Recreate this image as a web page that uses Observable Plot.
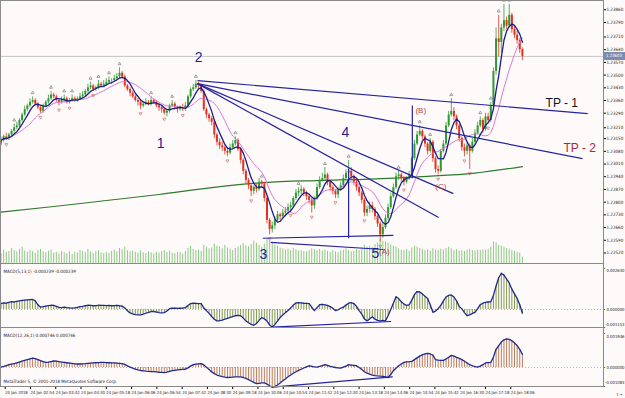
<!DOCTYPE html>
<html><head><meta charset="utf-8">
<script src="https://cdn.jsdelivr.net/npm/d3@7"></script>
<script src="https://cdn.jsdelivr.net/npm/@observablehq/plot@0.6"></script>
<style>
html,body{margin:0;padding:0;background:#fffafa;}
#chart{position:relative;width:625px;height:398px;background:#fffafa;overflow:hidden;font-family:"DejaVu Sans",sans-serif;}
#chart svg{position:absolute;left:0;}
.ln{position:absolute;background:#8a8a8a;}
#pbox{position:absolute;left:603px;top:52px;width:22px;height:8px;background:#7d8cab;color:#fff;font-size:4.3px;line-height:8px;text-align:center;font-family:"Liberation Sans Narrow","DejaVu Sans Condensed",sans-serif;}
</style></head><body><div id="chart"></div>
<script>
// ---- price bars (M5, 24 Jan 2018 from 02:00) ----
const firstOpen = 1.2312;
const closes = [1.2314,1.2316,1.2315,1.2317,1.2319,1.2321,1.2322,1.2325,1.2328,1.2331,
1.2333,1.2335,1.2336,1.2334,1.2332,1.2330,1.2333,1.2335,1.2337,1.2339,
1.2338,1.2336,1.2335,1.2336,1.2337,1.2335,1.2336,1.2337,1.2336,1.2337,
1.2338,1.2339,1.2341,1.2343,1.2344,1.2342,1.2343,1.2345,1.2344,1.2345,
1.2346,1.2347,1.2347,1.2348,1.2349,1.2351,1.2349,1.2344,1.2342,1.2340,
1.2338,1.2336,1.2335,1.2333,1.2334,1.2335,1.2334,1.2336,1.2335,1.2333,
1.2332,1.2331,1.2329,1.2330,1.2333,1.2334,1.2332,1.2331,1.2332,1.2331,
1.2333,1.2338,1.2342,1.2343,1.2345,1.2344,1.2341,1.2331,1.2328,1.2326,
1.2324,1.2317,1.2313,1.2311,1.2310,1.2308,1.2307,1.2310,1.2312,1.2314,
1.2309,1.2303,1.2297,1.2292,1.2289,1.2286,1.2288,1.2287,1.2291,1.2290,
1.2282,1.2270,1.2265,1.2267,1.2270,1.2273,1.2272,1.2274,1.2275,1.2277,
1.2278,1.2282,1.2285,1.2286,1.2287,1.2285,1.2283,1.2281,1.2278,1.2282,
1.2288,1.2292,1.2293,1.2295,1.2291,1.2288,1.2286,1.2284,1.2287,1.2289,
1.2293,1.2296,1.2297,1.2294,1.2291,1.2288,1.2285,1.2281,1.2274,1.2276,
1.2278,1.2276,1.2272,1.2268,1.2262,1.2266,1.2271,1.2277,1.2283,1.2288,
1.2294,1.2295,1.2293,1.2291,1.2293,1.2295,1.2304,1.2312,1.2317,1.2319,
1.2316,1.2312,1.2308,1.2313,1.2304,1.2298,1.2297,1.2308,1.2312,1.2322,
1.2328,1.2330,1.2327,1.2322,1.2315,1.2310,1.2308,1.2311,1.2308,1.2313,
1.2318,1.2322,1.2325,1.2320,1.2327,1.2325,1.2333,1.2352,1.2370,1.2368,
1.2376,1.2380,1.2377,1.2383,1.2375,1.2372,1.2369,1.2364,1.23603];
const highs = [1.2316,1.2317,1.2318,1.2318,1.2320,1.2323,1.2324,1.2326,1.2329,1.2333,
1.2334,1.2337,1.2338,1.2337,1.2335,1.2333,1.2334,1.2336,1.2339,1.2341,
1.2340,1.2339,1.2337,1.2338,1.2339,1.2338,1.2337,1.2339,1.2338,1.2338,
1.2340,1.2341,1.2342,1.2345,1.2346,1.2345,1.2344,1.2347,1.2346,1.2347,
1.2348,1.2349,1.2348,1.2350,1.2351,1.2354,1.2352,1.2350,1.2345,1.2343,
1.2341,1.2339,1.2337,1.2336,1.2335,1.2337,1.2336,1.2338,1.2337,1.2336,
1.2334,1.2333,1.2332,1.2331,1.2334,1.2336,1.2335,1.2333,1.2333,1.2334,
1.2335,1.2339,1.2343,1.2345,1.2347,1.2346,1.2345,1.2342,1.2332,1.2329,
1.2327,1.2325,1.2318,1.2315,1.2313,1.2311,1.2310,1.2312,1.2314,1.2316,
1.2315,1.2310,1.2304,1.2298,1.2293,1.2290,1.2289,1.2290,1.2293,1.2292,
1.2291,1.2283,1.2271,1.2269,1.2272,1.2275,1.2274,1.2276,1.2277,1.2279,
1.2280,1.2283,1.2287,1.2288,1.2289,1.2288,1.2286,1.2284,1.2282,1.2283,
1.2290,1.2294,1.2296,1.2299,1.2296,1.2292,1.2289,1.2287,1.2288,1.2291,
1.2295,1.2298,1.2303,1.2299,1.2295,1.2292,1.2289,1.2286,1.2282,1.2278,
1.2280,1.2280,1.2277,1.2273,1.2269,1.2268,1.2273,1.2279,1.2285,1.2290,
1.2296,1.2297,1.2296,1.2294,1.2294,1.2297,1.2305,1.2314,1.2319,1.2322,
1.2320,1.2317,1.2313,1.2315,1.2314,1.2305,1.2300,1.2309,1.2314,1.2324,
1.2330,1.2337,1.2332,1.2328,1.2323,1.2316,1.2312,1.2313,1.2312,1.2315,
1.2320,1.2324,1.2327,1.2326,1.2329,1.2329,1.2335,1.2354,1.2376,1.2383,
1.2378,1.2389,1.2382,1.2389,1.2384,1.2377,1.2374,1.2370,1.2365];
const lows = [1.2311,1.2313,1.2314,1.2314,1.2316,1.2318,1.2320,1.2321,1.2324,1.2327,
1.2330,1.2332,1.2334,1.2333,1.2331,1.2329,1.2329,1.2332,1.2334,1.2336,
1.2337,1.2335,1.2333,1.2334,1.2335,1.2334,1.2334,1.2335,1.2335,1.2335,
1.2336,1.2337,1.2338,1.2340,1.2342,1.2341,1.2341,1.2342,1.2343,1.2343,
1.2344,1.2345,1.2345,1.2346,1.2347,1.2348,1.2348,1.2343,1.2341,1.2338,
1.2337,1.2335,1.2333,1.2331,1.2332,1.2333,1.2333,1.2333,1.2334,1.2332,
1.2330,1.2329,1.2328,1.2327,1.2329,1.2332,1.2331,1.2329,1.2330,1.2330,
1.2330,1.2332,1.2337,1.2341,1.2342,1.2342,1.2340,1.2330,1.2326,1.2324,
1.2322,1.2315,1.2311,1.2309,1.2308,1.2306,1.2305,1.2306,1.2309,1.2311,
1.2308,1.2301,1.2295,1.2290,1.2287,1.2283,1.2284,1.2285,1.2286,1.2288,
1.2280,1.2268,1.2262,1.2263,1.2265,1.2269,1.2270,1.2271,1.2272,1.2273,
1.2275,1.2277,1.2281,1.2283,1.2284,1.2283,1.2281,1.2279,1.2274,1.2276,
1.2281,1.2287,1.2291,1.2292,1.2289,1.2286,1.2284,1.2282,1.2282,1.2286,
1.2288,1.2292,1.2295,1.2292,1.2289,1.2286,1.2283,1.2279,1.2272,1.2272,
1.2274,1.2274,1.2270,1.2266,1.2258,1.2260,1.2265,1.2270,1.2276,1.2282,
1.2287,1.2292,1.2291,1.2289,1.2290,1.2292,1.2294,1.2303,1.2311,1.2316,
1.2314,1.2310,1.2306,1.2307,1.2302,1.2296,1.2295,1.2296,1.2307,1.2311,
1.2321,1.2327,1.2325,1.2320,1.2313,1.2308,1.2305,1.2306,1.2298,1.2307,
1.2312,1.2317,1.2321,1.2318,1.2319,1.2323,1.2324,1.2332,1.2350,1.2360,
1.2362,1.2374,1.2375,1.2376,1.2373,1.2370,1.2367,1.2362,1.2358];
const volumes = [220,310,260,280,350,300,270,330,380,290,260,310,280,240,300,330,270,250,290,310,
240,260,220,280,250,230,270,210,260,240,300,280,250,330,270,240,280,300,250,230,
260,240,280,310,270,350,320,380,300,270,290,260,240,300,250,230,270,250,220,260,
240,280,300,260,290,240,230,260,250,220,280,350,400,330,300,310,280,420,380,340,
360,450,400,380,340,420,360,330,300,350,380,420,460,410,390,440,520,470,420,380,
450,560,520,480,430,400,360,340,310,330,300,350,320,290,300,280,270,300,340,320,
300,330,290,310,280,260,300,270,250,290,310,340,300,270,290,320,300,360,420,380,
400,370,440,480,560,520,500,470,430,400,380,340,310,300,320,290,360,400,380,350,
330,300,320,290,340,310,300,330,310,350,380,340,300,320,290,300,280,310,330,300,
290,310,300,320,310,330,380,500,480,420,400,380,350,330,300,280,260,240,150];
const macdFast = [0.00038,0.00042,0.00040,0.00045,0.00050,0.00048,0.00052,0.00055,0.00058,0.00060,
0.00062,0.00063,0.00064,0.00055,0.00030,0.00015,0.00018,0.00022,0.00025,0.00027,
0.00026,0.00020,0.00014,0.00012,0.00015,0.00012,0.00010,0.00009,0.00011,0.00014,
0.00018,0.00020,0.00024,0.00027,0.00026,0.00024,0.00025,0.00027,0.00026,0.00026,
0.00025,0.00026,0.00024,0.00025,0.00027,0.00024,0.00022,0.00010,-0.00008,-0.00022,
-0.00028,-0.00033,-0.00035,-0.00035,-0.00030,-0.00024,-0.00018,-0.00013,-0.00013,-0.00016,
-0.00020,-0.00022,-0.00020,-0.00010,0.00005,0.00009,0.00008,0.00007,0.00008,0.00009,
0.00012,0.00025,0.00038,0.00040,0.00039,0.00038,0.00038,0.00010,-0.00007,-0.00025,
-0.00045,-0.00062,-0.00073,-0.00072,-0.00068,-0.00062,-0.00057,-0.00050,-0.00045,-0.00040,
-0.00038,-0.00040,-0.00055,-0.00073,-0.00085,-0.00095,-0.00101,-0.00090,-0.00070,-0.00051,
-0.00060,-0.00073,-0.00100,-0.00113,-0.00095,-0.00075,-0.00051,-0.00035,-0.00020,-0.00007,
0.00010,0.00028,0.00042,0.00044,0.00042,0.00040,0.00039,0.00038,0.00015,-0.00007,
0.00012,0.00031,0.00033,0.00030,0.00026,0.00018,0.00008,-0.00007,-0.00002,0.00008,
0.00015,0.00028,0.00040,0.00044,0.00038,0.00020,-0.00007,-0.00030,-0.00060,-0.00073,
-0.00060,-0.00046,-0.00062,-0.00070,-0.00073,-0.00070,-0.00073,-0.00040,0.00000,0.00040,
0.00082,0.00070,0.00049,0.00035,0.00026,0.00030,0.00060,0.00095,0.00115,0.00112,
0.00100,0.00085,0.00071,0.00030,-0.00018,-0.00010,0.00005,0.00026,0.00055,0.00080,
0.00090,0.00093,0.00080,0.00055,0.00020,0.00004,-0.00020,-0.00040,-0.00035,-0.00025,
-0.00018,0.00005,0.00031,0.00040,0.00045,0.00048,0.00049,0.00090,0.00150,0.00203,
0.00232,0.00220,0.00195,0.00170,0.00130,0.00100,0.00071,0.00030,-0.000239];
const macdSlow = [0.00002,0.00006,0.00011,0.00016,0.00019,0.00022,0.00026,0.00031,0.00036,0.00041,
0.00045,0.00049,0.00053,0.00050,0.00045,0.00039,0.00034,0.00029,0.00031,0.00034,
0.00037,0.00036,0.00033,0.00031,0.00029,0.00027,0.00025,0.00023,0.00021,0.00020,
0.00020,0.00021,0.00022,0.00024,0.00025,0.00026,0.00027,0.00028,0.00029,0.00029,
0.00028,0.00027,0.00026,0.00026,0.00025,0.00024,0.00022,0.00018,0.00010,0.00002,
-0.00004,-0.00009,-0.00014,-0.00017,-0.00019,-0.00021,-0.00022,-0.00023,-0.00024,-0.00025,
-0.00027,-0.00028,-0.00029,-0.00026,-0.00022,-0.00018,-0.00016,-0.00014,-0.00012,-0.00011,
-0.00010,-0.00002,0.00008,0.00016,0.00019,0.00021,0.00022,0.00015,0.00002,-0.00012,
-0.00025,-0.00035,-0.00043,-0.00048,-0.00052,-0.00055,-0.00057,-0.00056,-0.00055,-0.00054,
-0.00053,-0.00053,-0.00057,-0.00062,-0.00069,-0.00077,-0.00085,-0.00092,-0.00090,-0.00088,
-0.00088,-0.00095,-0.00104,-0.00112,-0.00108,-0.00100,-0.00088,-0.00076,-0.00065,-0.00053,
-0.00043,-0.00033,-0.00024,-0.00016,-0.00010,-0.00003,0.00004,0.00010,0.00007,0.00004,
0.00002,0.00006,0.00011,0.00016,0.00012,0.00006,0.00003,0.00000,-0.00002,-0.00004,
0.00002,0.00008,0.00016,0.00014,0.00012,0.00010,0.00000,-0.00012,-0.00024,-0.00032,
-0.00038,-0.00043,-0.00046,-0.00048,-0.00049,-0.00051,-0.00054,-0.00057,-0.00040,-0.00018,
-0.00004,0.00010,0.00020,0.00029,0.00032,0.00033,0.00035,0.00045,0.00055,0.00065,
0.00072,0.00078,0.00081,0.00077,0.00071,0.00045,0.00042,0.00041,0.00041,0.00048,
0.00058,0.00069,0.00065,0.00058,0.00052,0.00045,0.00036,0.00026,0.00016,0.00010,
0.00005,0.00002,0.00008,0.00016,0.00026,0.00028,0.00029,0.00060,0.00104,0.00125,
0.00145,0.00158,0.00163,0.00160,0.00153,0.00140,0.00125,0.00104,0.000746];

// long moving average (green), read at sample times
const maLongTimes = ["02:00","03:40","05:20","07:00","08:40","10:20","12:00","13:40","15:20","17:00","18:30"];
const maLongValues = [1.22745,1.22776,1.22809,1.22842,1.2288,1.22908,1.22919,1.22927,1.22941,1.2296,1.22996];

const upFractalBars = [5,12,19,24,27,34,37,41,45,57,65,74,89,99,113,123,132,151,159,163,171,182,186,189,191,193];
const downFractalBars = [2,15,22,26,35,53,62,69,86,95,102,110,118,127,138,144,153,166,176,178,185];

// annotations
const waveLabels = ["1","2","3","4","5"];
const waveTimes = ["07:03","08:15","10:18","12:54","13:51"];
const wavePrices = [1.23123,1.23597,1.22511,1.23183,1.22516];
const subLabels = ["(A)","(B)","(C)"];
const subTimes = ["14:08","15:17","15:55"];
const subPrices = [1.22528,1.23305,1.22886];
const tpLabels = ["TP - 1","TP - 2"];
const tpTimes = ["19:14","19:48"];
const tpPrices = [1.23343,1.23095];
const tpColors = ["#111111","#a8283c"];

const trendStartTimes = ["08:13","08:13","08:13","08:13","10:17","10:32","13:00","15:01"];
const trendStartPrices = [1.2347,1.23453,1.23453,1.23453,1.22601,1.22578,1.22985,1.23332];
const trendEndTimes = ["20:34","20:24","16:19","15:51","14:25","14:06","13:00","15:01"];
const trendEndPrices = [1.23288,1.2304,1.22847,1.22715,1.22617,1.22539,1.22601,1.22931];

const macdFastDivTimes = ["10:35","14:20"];
const macdFastDivValues = [-0.00113,-0.00077];
const macdSlowDivTimes = ["10:35","14:23"];
const macdSlowDivValues = [-0.00112,-0.00053];

// axes
const priceTicks = [1.2252,1.2259,1.2266,1.2273,1.2280,1.2287,1.2294,1.2301,1.2308,1.2315,1.2321,1.2329,1.2336,1.2343,1.2350,1.2357,1.2364,1.2371,1.2379,1.2386];
const macdFastTicks = [0.00263,0,-0.001153];
const macdSlowTicks = [0.001946,0,-0.001083];
const xTickTimes = ["02:06","02:54","03:42","04:30","05:18","06:06","06:54","07:42","08:30","09:18","10:06","10:54","11:42","12:30","13:18","14:06","14:54","15:42","16:30","17:18","18:06"];
const xTickLabels = ["24 Jan 2018","24 Jan 02:54","24 Jan 03:42","24 Jan 04:30","24 Jan 05:18","24 Jan 06:06","24 Jan 06:54","24 Jan 07:42","24 Jan 08:30","24 Jan 09:18","24 Jan 10:06","24 Jan 10:54","24 Jan 11:42","24 Jan 12:30","24 Jan 13:18","24 Jan 14:06","24 Jan 14:54","24 Jan 15:42","24 Jan 16:30","24 Jan 17:18","24 Jan 18:06"];
const macdFastTitle = "MACD(5,13,1) -0.000239 -0.000239";
const macdSlowTitle = "MACD(12,26,1) 0.000746 0.000746";
const footer = "MetaTrader 5, \u00a9 2001-2018 MetaQuotes Software Corp.";
const lastPriceLabel = "1.23603";

// ---- build ----
const NARROW = "'Liberation Sans Narrow','DejaVu Sans Condensed',sans-serif";
const t = s => new Date(`2018-01-24T${s}:00Z`);
const t0 = Date.UTC(2018,0,24,2,0);
const bars = closes.map((c,i) => ({
  t: new Date(t0 + i*300000),
  o: i === 0 ? firstOpen : closes[i-1],
  c, h: highs[i], l: lows[i], v: volumes[i], m1: macdFast[i], m2: macdSlow[i]
}));
const xDomain = [t("01:59"), t("21:04")];
const UP = "#2f9a33", DN = "#e2321f";
const common = {width:625, marginLeft:0, marginRight:22, marginTop:0, style:{background:"transparent", overflow:"visible"}};
const chart = document.getElementById("chart");
function place(svg, top){ svg.style.top = top + "px"; chart.appendChild(svg); }

// right-hand value labels for an indicator panel: tick + text, end-anchored inside the margin
function valueAxis(ticks, shifts){
  return [
    Plot.ruleY(ticks,{x1:t("21:04"), x2:t("21:08"), stroke:"#444", strokeWidth:0.8}),
    ...ticks.map((v,i)=>Plot.text([v],{y:d=>d, frameAnchor:"right", dx:21, dy:shifts[i], textAnchor:"end",
      text:d=>d.toFixed(6), fontSize:4.2, fontFamily:NARROW, fill:"#222"}))
  ];
}

// volume layer
place(Plot.plot({...common, height:263, marginBottom:0,
  x:{type:"utc", domain:xDomain, axis:null},
  y:{domain:[0,6100], axis:null},
  marks:[Plot.ruleX(bars,{x:"t", y1:0, y2:"v", stroke:"#8cc985", strokeWidth:1})]
}), 0);

const lastClose = closes[closes.length-1];
const links = trendStartTimes.map((s,i)=>({x1:t(s), y1:trendStartPrices[i], x2:t(trendEndTimes[i]), y2:trendEndPrices[i]}));

place(Plot.plot({...common, height:263, marginBottom:0,
  x:{type:"utc", domain:xDomain, axis:null},
  y:{domain:[1.22462,1.23911]},
  marks:[
    Plot.ruleY([lastClose],{stroke:"#c4c4c4", strokeWidth:1}),
    Plot.line(maLongTimes,{x:d=>t(d), y:(d,i)=>maLongValues[i], stroke:"#2f7a2f", strokeWidth:1.2, curve:"monotone-x"}),
    Plot.ruleX(bars,{x:"t", y1:"l", y2:"h", stroke:d=>d.c>=d.o?UP:DN, strokeWidth:0.8}),
    Plot.ruleX(bars,{x:"t", y1:"o", y2:"c", stroke:d=>d.c>=d.o?UP:DN, strokeWidth:2}),
    Plot.lineY(bars, Plot.windowY({k:12, anchor:"end"}, {x:"t", y:"c", stroke:"#d77ad4", strokeWidth:1})),
    Plot.lineY(bars, Plot.windowY({k:5, anchor:"end"}, {x:"t", y:"c", stroke:"#1c1c8c", strokeWidth:1.3})),
    Plot.dot(upFractalBars,{x:i=>bars[i].t, y:i=>highs[i], dy:-4, symbol:"triangle", r:1.1, stroke:"#6a6a6a", fill:"none", strokeWidth:0.6}),
    Plot.dot(downFractalBars,{x:i=>bars[i].t, y:i=>lows[i], dy:4, symbol:"triangle", rotate:180, r:1.1, stroke:"#c85a5a", fill:"none", strokeWidth:0.6}),
    Plot.link(links,{x1:"x1", y1:"y1", x2:"x2", y2:"y2", stroke:"#2424a0", strokeWidth:1.2}),
    Plot.text(waveLabels,{x:(d,i)=>t(waveTimes[i]), y:(d,i)=>wavePrices[i], text:d=>d, fill:"#1c1c9c", fontSize:14, fontFamily:"Liberation Sans"}),
    Plot.text(subLabels,{x:(d,i)=>t(subTimes[i]), y:(d,i)=>subPrices[i], text:d=>d, fill:"#b04646", fontSize:8, fontFamily:"Liberation Sans"}),
    Plot.text(tpLabels,{x:(d,i)=>t(tpTimes[i]), y:(d,i)=>tpPrices[i], text:d=>d, fill:(d,i)=>tpColors[i], fontSize:12, textAnchor:"start", fontFamily:"Liberation Sans"}),
    Plot.axisY(priceTicks,{anchor:"right", tickSize:2, tickPadding:1, tickFormat:d=>d.toFixed(5), fontSize:4.5, fontFamily:NARROW, fill:"#222"})
  ]
}), 0);

// MACD fast panel
place(Plot.plot({...common, height:63, marginBottom:0,
  x:{type:"utc", domain:xDomain, axis:null},
  y:{domain:[-0.001153,0.00288], axis:null},
  marks:[
    Plot.ruleY([0],{stroke:"#b8b8b8", strokeDasharray:"1,2"}),
    Plot.ruleX(bars,{x:"t", y1:0, y2:"m1", stroke:"#7f9a4e", strokeWidth:1}),
    Plot.line(bars,{x:"t", y:"m1", stroke:"#1e2a8c", strokeWidth:1.3}),
    Plot.line(macdFastDivTimes,{x:d=>t(d), y:(d,i)=>macdFastDivValues[i], stroke:"#2424a0", strokeWidth:1.2}),
    Plot.text([macdFastTitle],{frameAnchor:"top-left", dx:3, dy:5, text:d=>d, fontSize:4.5, fontFamily:NARROW, fill:"#222"}),
    ...valueAxis(macdFastTicks,[2,0,-3])
  ]
}), 264);

// MACD slow panel + time axis
const tickMap = new Map(xTickTimes.map((s,i)=>[+t(s), xTickLabels[i]]));
place(Plot.plot({...common, height:70, marginBottom:12,
  x:{type:"utc", domain:xDomain, axis:null},
  y:{domain:[-0.001083,0.002223], axis:null},
  marks:[
    Plot.ruleY([0],{stroke:"#b8b8b8", strokeDasharray:"1,2"}),
    Plot.ruleX(bars,{x:"t", y1:0, y2:"m2", stroke:"#bb7d5c", strokeWidth:1}),
    Plot.line(bars,{x:"t", y:"m2", stroke:"#1e2a8c", strokeWidth:1.3}),
    Plot.line(macdSlowDivTimes,{x:d=>t(d), y:(d,i)=>macdSlowDivValues[i], stroke:"#2424a0", strokeWidth:1.2}),
    Plot.text([macdSlowTitle],{frameAnchor:"top-left", dx:3, dy:5, text:d=>d, fontSize:4.5, fontFamily:NARROW, fill:"#222"}),
    Plot.text([footer],{frameAnchor:"bottom-left", dx:3, dy:-4, text:d=>d, fontSize:4.5, fontFamily:NARROW, fill:"#222"}),
    ...valueAxis(macdSlowTicks,[3,0,-4]),
    Plot.axisX(xTickTimes.map(t),{anchor:"bottom", tickSize:3, tickPadding:2, textAnchor:"start", dx:1, tickFormat:d=>tickMap.get(+d), fontSize:4.2, fontFamily:NARROW, fill:"#222"})
  ]
}), 328);

// panel borders
function line(l,tp,w,h){const d=document.createElement("div");d.className="ln";d.style.left=l+"px";d.style.top=tp+"px";d.style.width=w+"px";d.style.height=h+"px";chart.appendChild(d);}
line(0,0,1,386); line(603,0,1,386); line(0,0,603,1);
line(0,263,603,1); line(0,327,603,1); line(0,386,604,1);
const pb=document.createElement("div"); pb.id="pbox"; pb.textContent=lastPriceLabel; chart.appendChild(pb);
</script></body></html>
